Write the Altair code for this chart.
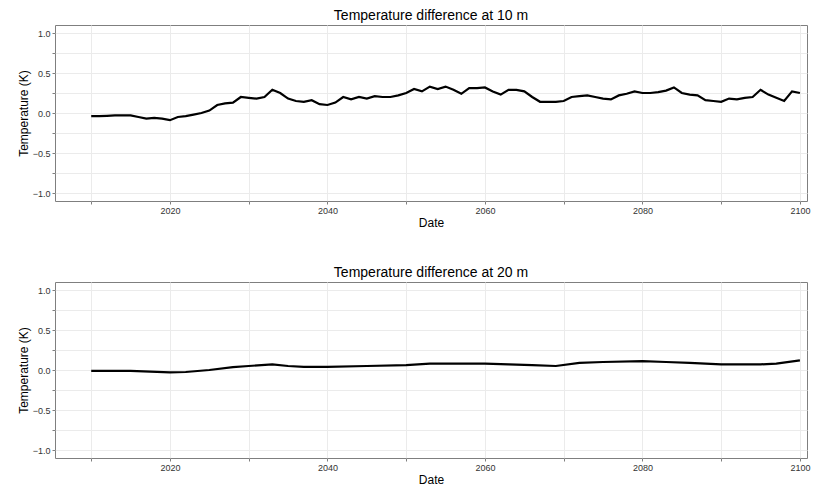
import pandas as pd
import altair as alt

years_10m = list(range(2010, 2101))
temp_10m = [
    -0.04, -0.04, -0.035, -0.03, -0.03, -0.03, -0.05, -0.07, -0.06, -0.07,
    -0.09, -0.05, -0.04, -0.02, 0.0, 0.03, 0.10, 0.12, 0.13, 0.20,
    0.19, 0.18, 0.20, 0.29, 0.25, 0.18, 0.15, 0.14, 0.16, 0.11,
    0.10, 0.13, 0.20, 0.17, 0.20, 0.18, 0.21, 0.20, 0.20, 0.22,
    0.25, 0.30, 0.27, 0.33, 0.30, 0.33, 0.29, 0.24, 0.31, 0.31,
    0.32, 0.27, 0.23, 0.29, 0.29, 0.27, 0.20, 0.14, 0.14, 0.14,
    0.15, 0.20, 0.21, 0.22, 0.20, 0.18, 0.17, 0.22, 0.24, 0.27,
    0.25, 0.25, 0.26, 0.28, 0.32, 0.25, 0.23, 0.22, 0.16, 0.15,
    0.14, 0.18, 0.17, 0.19, 0.20, 0.29, 0.23, 0.19, 0.15, 0.27,
    0.25,
]

years_20m = [2010, 2015, 2020, 2022, 2025, 2028, 2030, 2033, 2035, 2037, 2040,
             2045, 2050, 2053, 2056, 2060, 2063, 2066, 2069, 2072, 2075, 2080,
             2083, 2086, 2090, 2093, 2095, 2097, 2100]
temp_20m = [-0.01, -0.01, -0.03, -0.025, 0.0, 0.035, 0.05, 0.07, 0.05, 0.04, 0.04,
            0.05, 0.06, 0.08, 0.08, 0.08, 0.07, 0.06, 0.05, 0.09, 0.10, 0.11,
            0.10, 0.09, 0.07, 0.07, 0.07, 0.08, 0.12]

x_values = list(range(2010, 2101, 10))
y_values = [-1, -0.75, -0.5, -0.25, 0, 0.25, 0.5, 0.75, 1]


def panel(df, title):
    return (
        alt.Chart(df, title=alt.TitleParams(title, fontSize=14, fontWeight="normal", offset=2))
        .mark_line(color="black", strokeWidth=2.2)
        .encode(
            alt.X("year:Q", title="Date",
                  scale=alt.Scale(domain=[2005.4, 2100.9], nice=False, zero=False),
                  axis=alt.Axis(values=x_values, format="d",
                                labelExpr="datum.value % 20 == 0 ? datum.label : ''")),
            alt.Y("temp:Q", title="Temperature (K)",
                  scale=alt.Scale(domain=[-1.1, 1.1], nice=False),
                  axis=alt.Axis(values=y_values, format=".1f",
                                labelExpr="(datum.value * 2) % 1 == 0 ? datum.label : ''")),
        )
        .properties(width=752, height=176)
    )


top = panel(pd.DataFrame({"year": years_10m, "temp": temp_10m}), "Temperature difference at 10 m")
bottom = panel(pd.DataFrame({"year": years_20m, "temp": temp_20m}), "Temperature difference at 20 m")

chart = (
    alt.vconcat(top, bottom, spacing=36)
    .configure(font="Liberation Sans")
    .configure_view(stroke="#7f7f7f")
    .configure_axis(domain=False, gridColor="#ebebeb", tickColor="#7f7f7f", tickSize=3,
                    labelFontSize=9, labelColor="#333333", titleFontSize=12,
                    titleFontWeight="normal", titlePadding=2)
    .properties(padding={"left": 8, "top": 0, "right": 5, "bottom": 0})
)

chart.save("out.html", embed_options={"renderer": "svg", "actions": False})
